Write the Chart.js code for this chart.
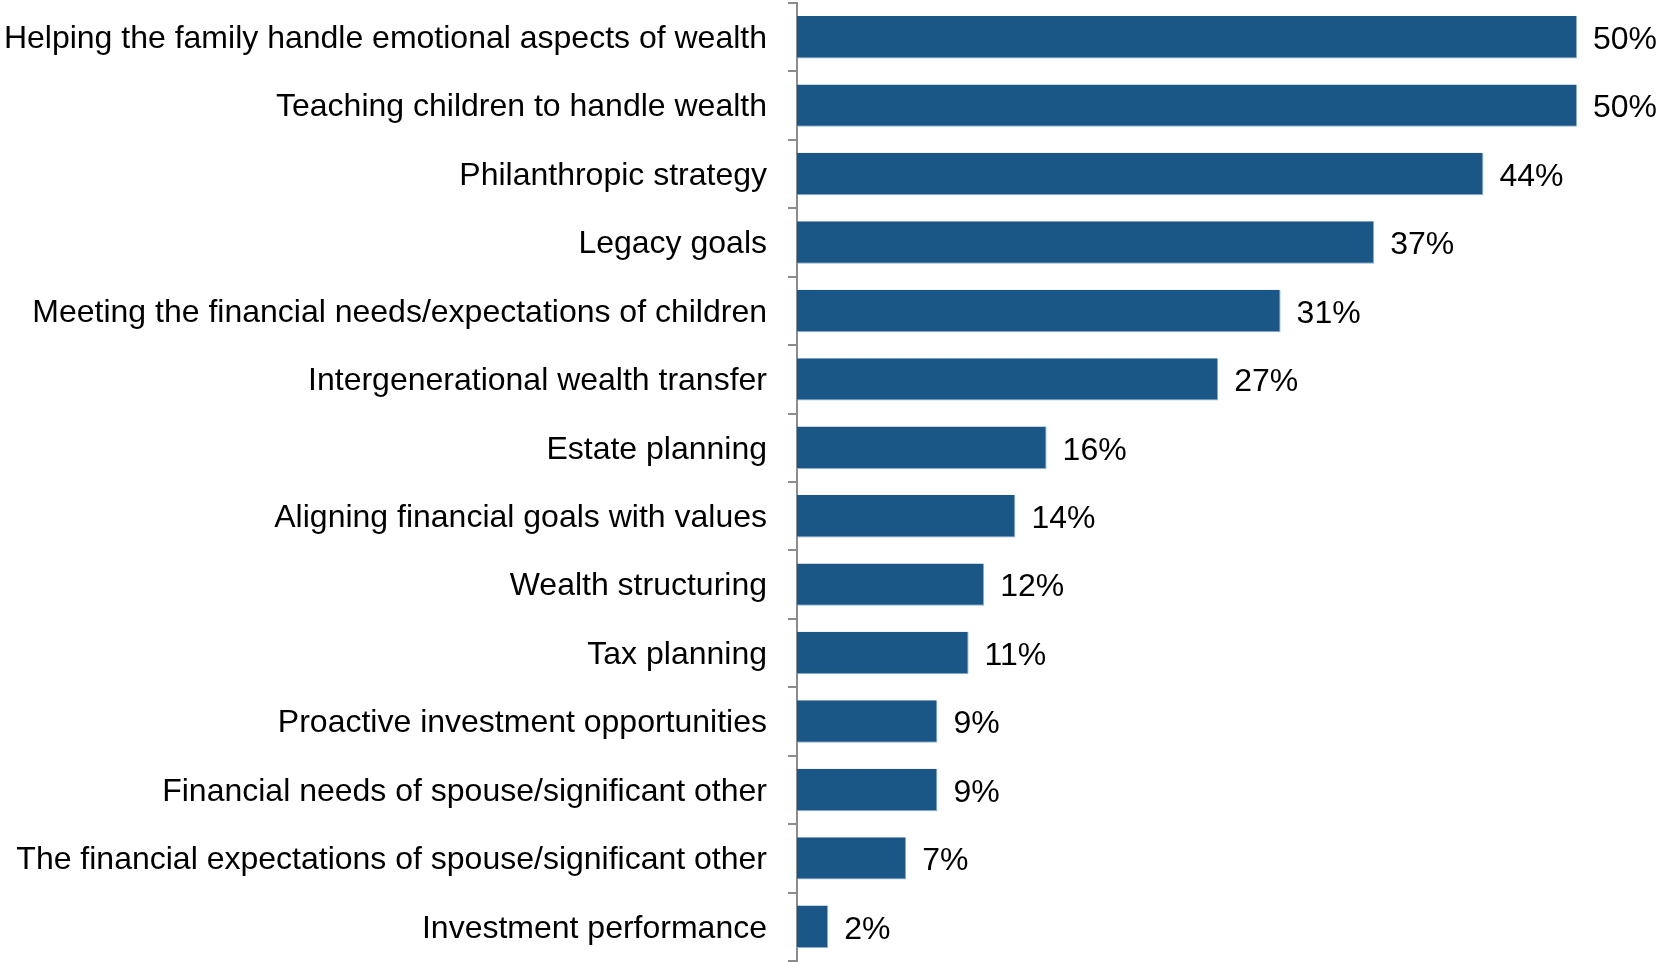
<!DOCTYPE html>
<html>
<head>
<meta charset="utf-8">
<script src="https://cdn.jsdelivr.net/npm/chart.js@4/dist/chart.umd.min.js"></script>
<style>
  html, body { margin: 0; padding: 0; background: #fff; }
  #wrap { width: 1660px; height: 962px; position: relative; }
</style>
</head>
<body>
<div id="wrap"><canvas id="chart"></canvas></div>
<script>
// ── Data ──────────────────────────────────────────────────────────────────
const categories = [
  'Helping the family handle emotional aspects of wealth',
  'Teaching children to handle wealth',
  'Philanthropic strategy',
  'Legacy goals',
  'Meeting the financial needs/expectations of children',
  'Intergenerational wealth transfer',
  'Estate planning',
  'Aligning financial goals with values',
  'Wealth structuring',
  'Tax planning',
  'Proactive investment opportunities',
  'Financial needs of spouse/significant other',
  'The financial expectations of spouse/significant other',
  'Investment performance',
];
const values = [50, 50, 44, 37, 31, 27, 16, 14, 12, 11, 9, 9, 7, 2];

const FONT = '"Liberation Sans", Arial, Helvetica, sans-serif';
const AXIS_GRAY = '#8c8c8c';

// ── Value labels to the right of each bar ─────────────────────────────────
const valueLabels = {
  id: 'valueLabels',
  afterDatasetsDraw(chart) {
    const ctx = chart.ctx;
    const meta = chart.getDatasetMeta(0);
    ctx.save();
    ctx.font = '32px ' + FONT;
    ctx.fillStyle = '#000';
    ctx.textAlign = 'left';
    ctx.textBaseline = 'middle';
    meta.data.forEach((bar, i) => {
      ctx.fillText(values[i] + '%', bar.x + 16, bar.y + 3);
    });
    ctx.restore();
  },
};

new Chart(document.getElementById('chart'), {
  type: 'bar',
  data: {
    labels: categories,
    datasets: [{
      data: values,
      backgroundColor: '#1a5787',
      borderColor: '#8fb0cf',
      borderWidth: { right: 1, bottom: 1 },
      borderSkipped: 'left',
      barPercentage: 0.62,
      categoryPercentage: 1,
    }],
  },
  options: {
    indexAxis: 'y',
    responsive: true,
    maintainAspectRatio: false,
    animation: false,
    layout: { padding: { top: 3, right: 83, bottom: 1, left: 0 } },
    plugins: {
      legend: { display: false },
      tooltip: { enabled: false },
    },
    scales: {
      x: { display: false, min: 0, max: 50 },
      y: {
        afterFit: (scale) => {
          scale.width = 797;
          scale.paddingTop = 0;
          scale.paddingBottom = 0;
        },
        border: { display: true, color: AXIS_GRAY, width: 2 },
        grid: {
          offset: true,
          drawOnChartArea: false,
          drawTicks: true,
          tickLength: 9,
          color: AXIS_GRAY,
          lineWidth: 2,
        },
        ticks: {
          color: '#000',
          padding: 21,
          labelOffset: 2,
          font: { family: FONT, size: 32 },
        },
      },
    },
  },
  plugins: [valueLabels],
});
</script>
</body>
</html>
